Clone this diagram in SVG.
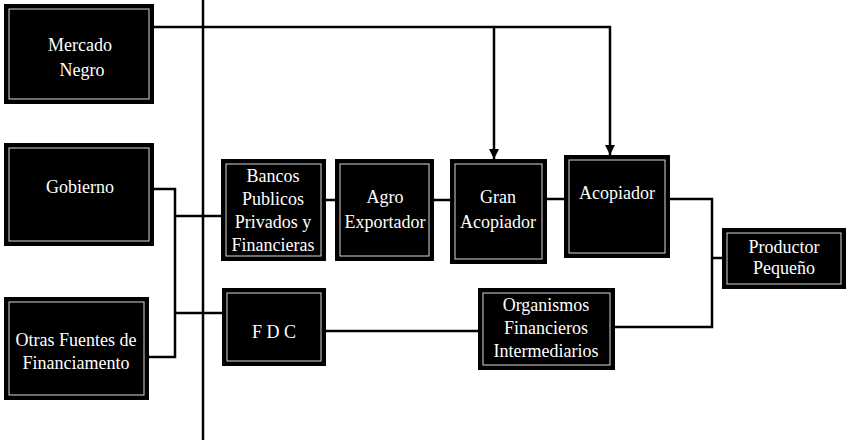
<svg xmlns="http://www.w3.org/2000/svg" width="850" height="443" viewBox="0 0 850 443">
<style>
.box{fill:#000;stroke:#000;stroke-width:2}
.inner{fill:none;stroke:#d8d8d8;stroke-width:1}
.t{fill:#fff;font-family:"Liberation Serif",serif;font-size:18px;text-anchor:middle}
.c{fill:none;stroke:#000;stroke-width:2.5}
</style>
<defs>
<marker id="ah" markerWidth="10" markerHeight="10" refX="10" refY="5" orient="auto" markerUnits="userSpaceOnUse" viewBox="0 0 10 10">
<path d="M0,0 L10,5 L0,10 Z" fill="#000"/>
</marker>
</defs>
<rect width="850" height="443" fill="#fff"/>
<g id="connectors">
<line class="c" x1="203" y1="0" x2="203" y2="440"/>
<line class="c" x1="153" y1="27" x2="611" y2="27"/>
<line class="c" x1="494" y1="27" x2="494" y2="159" marker-end="url(#ah)"/>
<line class="c" x1="610" y1="26" x2="610" y2="155" marker-end="url(#ah)"/>
<polyline class="c" points="153,189 175,189 175,357 148,357"/>
<line class="c" x1="175" y1="216" x2="222" y2="216"/>
<line class="c" x1="175" y1="313" x2="223" y2="313"/>
<line class="c" x1="325" y1="200" x2="336" y2="200"/>
<line class="c" x1="433" y1="200" x2="451" y2="200"/>
<line class="c" x1="546" y1="199" x2="565" y2="199"/>
<polyline class="c" points="669,199 712,199 712,327 614,327"/>
<line class="c" x1="712" y1="258" x2="723" y2="258"/>
<line class="c" x1="325" y1="331" x2="479" y2="331"/>
</g>
<g id="mercado">
<rect class="box" x="5" y="5" width="148" height="98"/>
<rect class="inner" x="9" y="9" width="140" height="90"/>
<text class="t" x="80" y="51">Mercado</text>
<text class="t" x="82" y="76">Negro</text>
</g>
<g id="gobierno">
<rect class="box" x="5" y="144" width="148" height="101"/>
<rect class="inner" x="9" y="148" width="140" height="93"/>
<text class="t" x="80" y="193">Gobierno</text>
</g>
<g id="otras">
<rect class="box" x="5" y="298" width="143" height="101"/>
<rect class="inner" x="9" y="302" width="135" height="93"/>
<text class="t" x="76" y="346">Otras Fuentes de</text>
<text class="t" x="76" y="369">Financiamento</text>
</g>
<g id="bancos">
<rect class="box" x="222" y="160" width="103" height="100"/>
<rect class="inner" x="226" y="164" width="95" height="92"/>
<text class="t" x="273" y="182">Bancos</text>
<text class="t" x="273" y="205">Publicos</text>
<text class="t" x="273" y="228">Privados y</text>
<text class="t" x="273" y="251">Financieras</text>
</g>
<g id="agro">
<rect class="box" x="336" y="160" width="97" height="100"/>
<rect class="inner" x="340" y="164" width="89" height="92"/>
<text class="t" x="385" y="203">Agro</text>
<text class="t" x="385" y="228">Exportador</text>
</g>
<g id="gran">
<rect class="box" x="451" y="160" width="95" height="103"/>
<rect class="inner" x="455" y="164" width="87" height="95"/>
<text class="t" x="498" y="203">Gran</text>
<text class="t" x="498" y="228">Acopiador</text>
</g>
<g id="acopiador">
<rect class="box" x="565" y="156" width="104" height="101"/>
<rect class="inner" x="569" y="160" width="96" height="93"/>
<text class="t" x="617" y="199">Acopiador</text>
</g>
<g id="productor">
<rect class="box" x="723" y="229" width="122" height="59"/>
<rect class="inner" x="727" y="233" width="114" height="51"/>
<text class="t" x="784" y="253">Productor</text>
<text class="t" x="784" y="274">Pequeño</text>
</g>
<g id="fdc">
<rect class="box" x="223" y="289" width="102" height="76"/>
<rect class="inner" x="227" y="293" width="94" height="68"/>
<text class="t" x="274" y="338">F D C</text>
</g>
<g id="organismos">
<rect class="box" x="479" y="289" width="135" height="80"/>
<rect class="inner" x="483" y="293" width="127" height="72"/>
<text class="t" x="546" y="311">Organismos</text>
<text class="t" x="546" y="334">Financieros</text>
<text class="t" x="546" y="357">Intermediarios</text>
</g>
</svg>
